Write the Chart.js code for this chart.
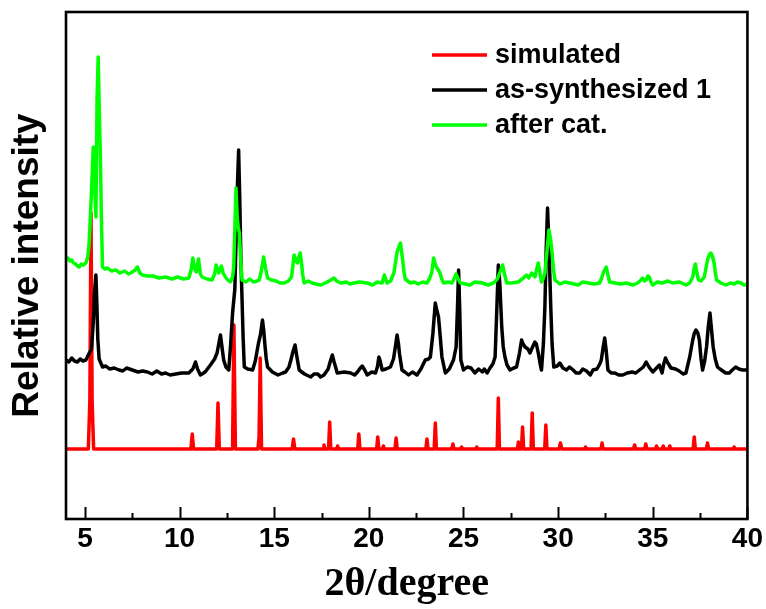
<!DOCTYPE html>
<html>
<head>
<meta charset="utf-8">
<script src="https://cdn.jsdelivr.net/npm/chart.js@4"></script>
<style>
  html, body { margin: 0; padding: 0; background: #fff; }
  #wrap { width: 766px; height: 609px; position: relative; }
</style>
</head>
<body>
<div id="wrap"><canvas id="c"></canvas></div>
<script>
// 2θ range and axis ticks
const X_MIN = 4;
const X_MAX = 40;
const xTicks = [5, 10, 15, 20, 25, 30, 35, 40];
const xMinorTicks = [7.5, 12.5, 17.5, 22.5, 27.5, 32.5, 37.5];

const seriesLabels = ["simulated", "as-synthesized 1", "after cat."];
const seriesColors = ["#ff0000", "#000000", "#00ff00"];

// [2θ, intensity (a.u., offset stacked)]
const simulated = [
  [4.0, 70], [5.18, 70], [5.26, 118], [5.32, 306], [5.38, 118], [5.46, 70],
  [10.6, 70], [10.67, 85], [10.74, 70],
  [11.96, 70], [12.03, 116], [12.1, 70],
  [12.8, 70], [12.87, 194], [12.95, 70],
  [14.14, 70], [14.2, 82], [14.26, 161], [14.33, 70],
  [15.95, 70], [16.02, 80], [16.09, 70],
  [17.58, 70], [17.63, 74], [17.68, 70],
  [17.87, 70], [17.93, 97], [17.99, 70],
  [18.3, 70], [18.35, 73], [18.4, 70],
  [19.41, 70], [19.47, 85], [19.53, 70],
  [20.41, 70], [20.47, 82], [20.53, 70],
  [20.72, 70], [20.77, 73], [20.82, 70],
  [21.38, 70], [21.44, 81], [21.5, 70],
  [23.01, 70], [23.07, 80], [23.13, 70],
  [23.45, 70], [23.51, 96], [23.57, 70],
  [24.38, 70], [24.44, 75], [24.5, 70],
  [24.85, 70], [24.9, 72], [24.95, 70],
  [25.65, 70], [25.7, 72], [25.75, 70],
  [26.78, 70], [26.84, 121], [26.9, 70],
  [27.85, 70], [27.9, 77], [27.95, 70],
  [28.06, 70], [28.12, 92], [28.18, 70],
  [28.57, 70], [28.63, 106], [28.69, 70],
  [29.29, 70], [29.35, 94], [29.41, 70],
  [30.05, 70], [30.12, 76], [30.19, 70],
  [31.4, 70], [31.45, 72], [31.5, 70],
  [32.26, 70], [32.32, 76], [32.38, 70],
  [33.98, 70], [34.04, 74], [34.1, 70],
  [34.57, 70], [34.63, 75], [34.69, 70],
  [35.15, 70], [35.2, 73], [35.25, 70],
  [35.5, 70], [35.55, 73], [35.6, 70],
  [35.85, 70], [35.9, 73], [35.95, 70],
  [37.13, 70], [37.19, 82], [37.25, 70],
  [37.83, 70], [37.89, 76], [37.95, 70],
  [39.25, 70], [39.3, 72], [39.35, 70],
  [40.0, 70]
];

const asSynthesized = [
  [4.0, 159], [4.15, 157], [4.3, 161], [4.45, 158], [4.6, 157], [4.75, 160], [4.9, 158],
  [5.05, 159], [5.23, 166], [5.35, 170], [5.45, 200], [5.5, 225], [5.58, 244], [5.63, 215],
  [5.68, 180], [5.75, 160], [5.93, 152], [6.1, 153], [6.3, 150], [6.55, 151], [6.8, 149],
  [7.0, 148], [7.2, 151], [7.5, 149], [7.8, 147], [8.05, 148], [8.3, 147], [8.55, 145],
  [8.8, 148], [9.05, 145], [9.26, 146], [9.5, 144], [9.8, 145], [10.1, 146], [10.49, 146],
  [10.7, 150], [10.84, 157], [10.95, 150], [11.1, 144], [11.35, 147], [11.63, 154],
  [11.85, 160], [11.98, 166], [12.1, 178], [12.16, 184], [12.24, 172], [12.33, 159],
  [12.45, 152], [12.6, 149], [12.7, 175], [12.8, 206], [12.92, 230], [13.05, 330],
  [13.12, 369], [13.18, 320], [13.24, 260], [13.3, 220], [13.36, 180], [13.42, 152],
  [13.6, 150], [13.86, 149], [14.0, 158], [14.17, 176], [14.28, 185], [14.38, 199],
  [14.45, 188], [14.5, 176], [14.58, 160], [14.65, 152], [14.9, 147], [15.2, 144],
  [15.45, 146], [15.6, 147], [15.78, 152], [15.88, 159], [16.0, 168], [16.1, 174],
  [16.2, 162], [16.32, 149], [16.6, 145], [16.93, 142], [17.1, 145], [17.3, 145],
  [17.45, 142], [17.63, 144], [17.85, 150], [18.0, 160], [18.07, 164], [18.15, 158],
  [18.33, 146], [18.7, 147], [19.04, 146], [19.25, 144], [19.4, 147], [19.55, 151],
  [19.65, 153], [19.78, 149], [19.91, 144], [20.15, 147], [20.35, 146], [20.45, 152],
  [20.53, 162], [20.6, 158], [20.7, 149], [20.9, 150], [21.14, 152], [21.3, 160],
  [21.4, 172], [21.49, 184], [21.56, 176], [21.62, 165], [21.75, 149], [21.9, 147],
  [22.1, 144], [22.3, 147], [22.54, 144], [22.75, 150], [22.98, 159], [23.15, 160],
  [23.25, 162], [23.38, 185], [23.51, 216], [23.6, 208], [23.68, 202], [23.76, 185],
  [23.86, 162], [24.04, 146], [24.25, 150], [24.47, 159], [24.61, 172], [24.68, 210],
  [24.74, 249], [24.8, 210], [24.86, 159], [25.0, 149], [25.2, 152], [25.4, 151],
  [25.6, 146], [25.8, 150], [26.0, 147], [26.1, 150], [26.25, 146], [26.4, 151],
  [26.55, 155], [26.67, 162], [26.76, 210], [26.84, 254], [26.92, 235], [27.02, 192],
  [27.1, 172], [27.19, 162], [27.3, 154], [27.46, 149], [27.65, 151], [27.8, 152],
  [27.95, 165], [28.07, 179], [28.15, 175], [28.25, 172], [28.4, 170], [28.51, 166],
  [28.65, 172], [28.77, 177], [28.85, 175], [28.95, 166], [29.05, 155], [29.12, 149],
  [29.22, 175], [29.3, 212], [29.37, 270], [29.44, 311], [29.52, 270], [29.61, 212],
  [29.68, 175], [29.77, 152], [29.95, 153], [30.09, 156], [30.25, 151], [30.44, 149],
  [30.6, 152], [30.79, 149], [30.95, 146], [31.14, 146], [31.3, 150], [31.5, 148],
  [31.7, 144], [31.84, 149], [32.05, 150], [32.2, 155], [32.28, 159], [32.38, 172],
  [32.46, 181], [32.54, 168], [32.63, 149], [32.8, 146], [33.0, 146], [33.2, 144],
  [33.42, 144], [33.65, 146], [33.9, 147], [34.1, 146], [34.3, 149], [34.5, 152],
  [34.65, 157], [34.8, 152], [35.0, 147], [35.15, 150], [35.35, 154], [35.49, 146],
  [35.58, 155], [35.67, 161], [35.8, 156], [35.96, 151], [36.2, 150], [36.4, 148],
  [36.6, 145], [36.75, 146], [36.95, 162], [37.11, 179], [37.2, 186], [37.28, 189],
  [37.38, 186], [37.46, 179], [37.55, 160], [37.63, 149], [37.74, 158], [37.84, 172],
  [37.93, 192], [38.02, 206], [38.1, 190], [38.19, 172], [38.3, 160], [38.42, 152],
  [38.55, 150], [38.7, 148], [38.85, 146], [39.04, 146], [39.2, 149], [39.38, 152],
  [39.55, 150], [39.74, 149], [40.0, 149]
];

const afterCat = [
  [4.0, 261], [4.1, 261], [4.2, 258], [4.3, 259], [4.4, 256], [4.5, 255], [4.6, 253],
  [4.7, 252], [4.8, 255], [4.9, 254], [5.05, 256], [5.15, 262], [5.22, 275], [5.33, 320],
  [5.44, 372], [5.52, 330], [5.58, 302], [5.64, 420], [5.7, 462], [5.77, 400], [5.82, 360],
  [5.87, 300], [5.93, 252], [6.05, 250], [6.2, 251], [6.4, 248], [6.63, 249], [6.85, 246],
  [7.1, 248], [7.3, 245], [7.51, 247], [7.65, 249], [7.77, 252], [7.9, 246], [8.04, 244],
  [8.3, 243], [8.6, 243], [8.9, 241], [9.26, 242], [9.6, 240], [9.9, 242], [10.2, 240],
  [10.49, 241], [10.62, 250], [10.7, 261], [10.8, 250], [10.88, 247], [11.0, 260],
  [11.1, 245], [11.19, 242], [11.45, 240], [11.72, 239], [11.85, 245], [11.93, 254],
  [12.0, 250], [12.07, 246], [12.14, 250], [12.21, 253], [12.3, 246], [12.42, 242],
  [12.55, 239], [12.68, 237], [12.8, 242], [12.86, 252], [12.92, 290], [12.98, 331],
  [13.05, 300], [13.1, 292], [13.16, 286], [13.23, 260], [13.3, 239], [13.5, 237],
  [13.7, 240], [13.9, 237], [14.1, 238], [14.21, 239], [14.32, 248], [14.44, 262],
  [14.55, 250], [14.65, 241], [14.85, 239], [15.1, 238], [15.3, 236], [15.53, 236],
  [15.75, 238], [15.91, 242], [15.98, 252], [16.05, 264], [16.15, 258], [16.23, 256],
  [16.3, 262], [16.37, 266], [16.45, 255], [16.5, 245], [16.58, 236], [16.8, 238],
  [17.0, 236], [17.2, 235], [17.46, 234], [17.7, 236], [17.9, 238], [18.16, 241],
  [18.3, 238], [18.51, 236], [18.8, 237], [19.0, 235], [19.2, 236], [19.5, 237],
  [19.91, 236], [20.2, 234], [20.45, 237], [20.7, 236], [20.82, 244], [20.96, 236],
  [21.15, 238], [21.32, 246], [21.42, 258], [21.49, 267], [21.58, 272], [21.67, 276],
  [21.78, 260], [21.85, 248], [21.92, 240], [22.19, 236], [22.4, 237], [22.6, 235],
  [22.85, 237], [23.07, 236], [23.2, 240], [23.33, 247], [23.42, 261], [23.52, 254],
  [23.6, 251], [23.74, 247], [23.85, 240], [23.95, 236], [24.2, 237], [24.39, 236],
  [24.5, 240], [24.61, 245], [24.72, 240], [24.83, 236], [25.1, 235], [25.35, 234],
  [25.6, 237], [26.0, 236], [26.3, 234], [26.58, 236], [26.7, 238], [26.81, 241],
  [26.95, 248], [27.07, 254], [27.18, 244], [27.28, 236], [27.55, 236], [27.89, 237],
  [28.1, 240], [28.33, 244], [28.45, 241], [28.6, 246], [28.77, 242], [28.87, 250],
  [28.95, 256], [29.05, 245], [29.12, 237], [29.2, 240], [29.3, 246], [29.42, 270],
  [29.51, 289], [29.6, 280], [29.68, 266], [29.75, 250], [29.83, 239], [30.09, 235],
  [30.35, 237], [30.6, 236], [30.85, 235], [31.05, 234], [31.3, 237], [31.6, 236],
  [31.9, 235], [32.19, 236], [32.3, 241], [32.4, 247], [32.54, 252], [32.62, 245],
  [32.72, 237], [33.0, 236], [33.3, 235], [33.6, 236], [33.95, 234], [34.2, 236],
  [34.38, 239], [34.47, 241], [34.56, 238], [34.65, 239], [34.73, 243], [34.82, 242],
  [34.9, 237], [35.0, 234], [35.25, 237], [35.5, 236], [35.8, 238], [36.05, 236],
  [36.4, 237], [36.75, 234], [36.95, 236], [37.11, 242], [37.18, 250], [37.25, 255],
  [37.33, 246], [37.42, 239], [37.55, 238], [37.72, 242], [37.82, 252], [37.89, 259],
  [37.98, 264], [38.07, 266], [38.15, 263], [38.24, 256], [38.3, 247], [38.37, 239],
  [38.6, 236], [38.86, 234], [39.1, 236], [39.3, 235], [39.47, 237], [39.65, 236],
  [39.83, 234], [40.0, 235]
];

const Y_MIN = 0;
const Y_MAX = 507;

const toPoints = arr => arr.map(p => ({ x: p[0], y: p[1] }));

// frame + inward ticks on the bottom axis
const frameTicks = {
  id: "frameTicks",
  afterDraw(chart) {
    const { ctx, chartArea: a, scales } = chart;
    const xs = scales.x;
    ctx.save();
    ctx.strokeStyle = "#000";
    ctx.lineWidth = 2;
    ctx.beginPath();
    for (const v of xTicks) {
      const px = Math.round(xs.getPixelForValue(v)) + 0.5;
      ctx.moveTo(px, a.bottom);
      ctx.lineTo(px, a.bottom - 12);
    }
    for (const v of xMinorTicks) {
      const px = Math.round(xs.getPixelForValue(v)) + 0.5;
      ctx.moveTo(px, a.bottom);
      ctx.lineTo(px, a.bottom - 6);
    }
    ctx.stroke();
    ctx.lineWidth = 2.6;
    ctx.strokeRect(a.left, a.top, a.right - a.left, a.bottom - a.top);
    ctx.restore();
  }
};

// legend drawn inside the plot, top right
const insideLegend = {
  id: "insideLegend",
  afterDraw(chart) {
    const { ctx } = chart;
    ctx.save();
    ctx.font = "bold 27px 'Liberation Sans', Arial, sans-serif";
    ctx.textBaseline = "middle";
    chart.data.datasets.forEach((ds, i) => {
      const y = 55 + i * 35;
      ctx.strokeStyle = ds.borderColor;
      ctx.lineWidth = 3.5;
      ctx.beginPath();
      ctx.moveTo(432, y);
      ctx.lineTo(487, y);
      ctx.stroke();
      ctx.fillStyle = "#000";
      ctx.fillText(ds.label, 495, y + 1);
    });
    ctx.restore();
  }
};

const datasets = [simulated, asSynthesized, afterCat].map((s, i) => ({
  label: seriesLabels[i],
  data: toPoints(s),
  borderColor: seriesColors[i],
  backgroundColor: seriesColors[i],
  borderWidth: 3.5,
  pointRadius: 0,
  tension: 0,
  borderJoinStyle: "round",
  order: 2 - i
}));

new Chart(document.getElementById("c"), {
  type: "line",
  data: { datasets },
  options: {
    responsive: true,
    maintainAspectRatio: false,
    animation: false,
    layout: { padding: { top: 12, right: 16, left: 0, bottom: 0 } },
    plugins: {
      legend: { display: false },
      tooltip: { enabled: false }
    },
    scales: {
      x: {
        type: "linear",
        min: X_MIN,
        max: X_MAX,
        afterBuildTicks: s => { s.ticks = xTicks.map(v => ({ value: v })); },
        afterFit: s => { s.height = 90; },
        grid: { display: false, drawTicks: false },
        border: { display: false },
        ticks: {
          color: "#000",
          padding: 3,
          maxRotation: 0,
          font: { family: "'Liberation Sans', Arial, sans-serif", size: 28, weight: "bold" }
        },
        title: {
          display: true,
          text: "2θ/degree",
          color: "#000",
          padding: { top: 0, bottom: 0 },
          font: { family: "'Liberation Serif', 'Times New Roman', serif", size: 40, weight: "bold" }
        }
      },
      y: {
        min: Y_MIN,
        max: Y_MAX,
        afterFit: s => { s.width = 66; },
        grid: { display: false, drawTicks: false },
        border: { display: false },
        ticks: { display: false },
        title: {
          display: true,
          text: "Relative intensity",
          color: "#000",
          padding: { top: 6, bottom: 0 },
          font: { family: "'Liberation Sans', Arial, sans-serif", size: 37, weight: "bold" }
        }
      }
    }
  },
  plugins: [frameTicks, insideLegend]
});
</script>
</body>
</html>
